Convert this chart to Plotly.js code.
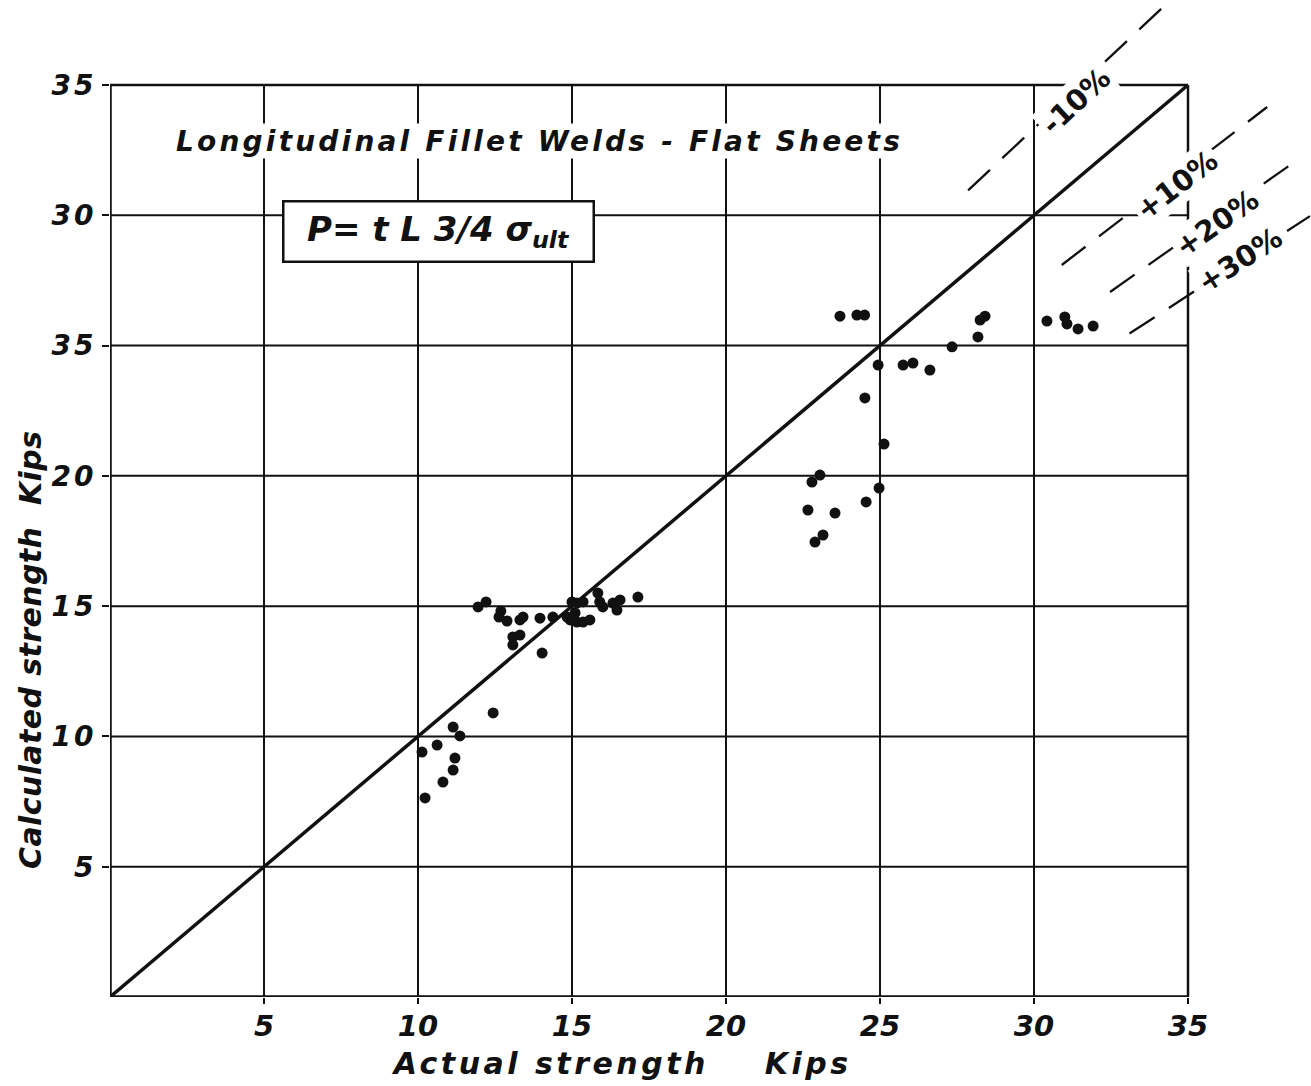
<!DOCTYPE html>
<html>
<head>
<meta charset="utf-8">
<script src="https://cdn.plot.ly/plotly-3.0.1.min.js"></script>
<style>
html,body{margin:0;padding:0;background:#fff;}
#chart{width:1311px;height:1086px;}
#chart .annotation[data-index="0"] text {letter-spacing: 3.2px;}
#chart .annotation[data-index="6"] text {letter-spacing: 3.5px;}
#chart .annotation[data-index="7"] text {letter-spacing: 0.4px;}
#chart .ytick text {letter-spacing: 3px;}
</style>
</head>
<body>
<div id="chart"></div>
<script>
// ---- data ----
const actualStrength = [
  10.23,10.13,10.62,11.14,11.36,11.20,11.14,10.81,12.44,
  11.95,12.21,12.69,12.63,12.89,13.31,13.41,13.96,14.38,13.08,13.31,13.08,14.03,
  15.00,15.16,15.36,14.94,15.16,15.36,15.58,14.84,15.10,15.84,15.90,16.00,16.33,16.56,16.46,17.14,
  22.66,23.54,22.79,23.05,22.89,23.15,24.55,24.97,25.13,24.51,24.94,25.75,26.07,26.62,27.34,28.18,28.25,28.41,
  23.70,24.25,24.50,
  30.42,31.00,31.07,31.43,31.92
];
const calculatedStrength = [
  7.64,9.40,9.67,10.36,10.02,9.17,8.71,8.25,10.90,
  14.97,15.16,14.81,14.58,14.43,14.47,14.58,14.54,14.58,13.82,13.89,13.51,13.20,
  15.16,15.12,15.16,14.47,14.39,14.39,14.47,14.58,14.74,15.50,15.16,14.97,15.12,15.24,14.85,15.35,
  18.69,18.57,19.76,20.03,17.46,17.73,19.00,19.53,21.22,22.99,24.25,24.25,24.33,24.06,24.95,25.33,25.98,26.13,
  26.13,26.17,26.17,
  25.94,26.10,25.83,25.64,25.75
];
const tickValues = [5, 10, 15, 20, 25, 30, 35];
const xTickText = ["5", "10", "15", "20", "25", "30", "35"];
const yTickText = ["5", "10", "15", "20", "35", "30", "35"];
const gridValues = [5, 10, 15, 20, 25, 30];
const axisMax = 35;
// deviation lines: calculated = actual / (1 + p)
const deviationPct = [-10, 10, 20, 30];
const deviationLabels = ["-10%", "+10%", "+20%", "+30%"];
const deviationStartX = [27.86, 30.9, 32.47, 33.1];
const deviationEndX = [34.42, 37.57, 38.6, 38.96];
const labelX = [31.36, 34.64, 35.94, 36.69];
const labelY = [34.39, 31.16, 29.70, 28.28];
const labelAngle = [-43, -37.5, -35, -33];
const chartTitle = "Longitudinal Fillet Welds - Flat Sheets";
const formulaText = "P= t L 3/4 σ<sub>ult</sub>";
const xTitle = "Actual strength&nbsp;&nbsp;&nbsp; Kips";
const yTitle = "Calculated strength&nbsp; Kips";

// ---- layout geometry ----
const W = 1311, H = 1086;
const mL = 110, mR = 0, mT = 2, mB = 89;
const pxPerX = 1078 / 35, pxPerY = 912 / 35;
const xMax = (W - mL - mR) / pxPerX;
const yMax = (H - mT - mB) / pxPerY;
const plotW = W - mL - mR, plotH = H - mT - mB;

const ink = "#111";
const titleFont = {family: "DejaVu Sans", size: 28, color: ink, weight: "bold", style: "italic"};
const formulaFont = {family: "DejaVu Sans", size: 34, color: ink, weight: "bold", style: "italic"};
const axisTitleFont = {family: "DejaVu Sans", size: 30, color: ink, weight: "bold", style: "italic"};

const traces = [];
// diagonal
traces.push({x: [0, axisMax], y: [0, axisMax], mode: "lines", line: {color: ink, width: 3.5}, hoverinfo: "skip"});
// deviation lines
deviationPct.forEach((p, i) => {
  const k = 1 / (1 + p / 100);
  traces.push({
    x: [deviationStartX[i], deviationEndX[i]],
    y: [deviationStartX[i] * k, deviationEndX[i] * k],
    mode: "lines", line: {color: ink, width: 2.3, dash: "30px,17px"}, hoverinfo: "skip"
  });
});
// data points
traces.push({x: actualStrength, y: calculatedStrength, mode: "markers",
  marker: {color: ink, size: 11, line: {width: 0}}});

const shapes = [];
gridValues.forEach(v => {
  shapes.push({type: "line", xref: "x", yref: "y", x0: v, x1: v, y0: 0, y1: axisMax, line: {color: ink, width: 2}, layer: "below"});
  shapes.push({type: "line", xref: "x", yref: "y", x0: 0, x1: axisMax, y0: v, y1: v, line: {color: ink, width: 2}, layer: "below"});
});
// frame
shapes.push({type: "line", xref: "x", yref: "y", x0: 0, x1: axisMax, y0: axisMax, y1: axisMax, line: {color: ink, width: 2.5}, layer: "below"});
shapes.push({type: "line", xref: "x", yref: "y", x0: axisMax, x1: axisMax, y0: 0, y1: axisMax, line: {color: ink, width: 2.5}, layer: "below"});
shapes.push({type: "line", xref: "x", yref: "y", x0: 0, x1: 0, y0: 0, y1: axisMax, line: {color: ink, width: 3.5}, layer: "below"});
shapes.push({type: "line", xref: "x", yref: "y", x0: 0, x1: axisMax, y0: 0, y1: 0, line: {color: ink, width: 3.5}, layer: "below"});

const annotations = [];
annotations.push({xref: "x", yref: "y", x: 13.96, y: 32.85, text: chartTitle, showarrow: false,
  xanchor: "center", yanchor: "middle", font: titleFont, bgcolor: "#fff", width: 745, height: 34, borderpad: 0});
annotations.push({xref: "x", yref: "y", x: 10.65, y: 29.36, text: formulaText, showarrow: false,
  xanchor: "center", yanchor: "middle",
  font: formulaFont, bgcolor: "#fff", bordercolor: ink, borderwidth: 2.5,
  width: 306, height: 56, borderpad: 1});
deviationLabels.forEach((t, i) => {
  annotations.push({xref: "x", yref: "y", x: labelX[i], y: labelY[i], text: t, showarrow: false,
    xanchor: "center", yanchor: "middle",
    textangle: labelAngle[i], font: {family: "DejaVu Sans", size: 29, color: ink, weight: "bold"},
    bgcolor: "#fff", borderpad: 2});
});
annotations.push({xref: "paper", yref: "paper", x: (621 - mL) / plotW, y: (997 - 1063) / plotH,
  xanchor: "center", yanchor: "middle", text: xTitle, showarrow: false, font: axisTitleFont});
annotations.push({xref: "paper", yref: "paper", x: (30 - mL) / plotW, y: (997 - 650) / plotH,
  xanchor: "center", yanchor: "middle", text: yTitle, textangle: -90, showarrow: false, font: axisTitleFont});

const layout = {
  width: W, height: H,
  margin: {l: mL, r: mR, t: mT, b: mB, pad: 0},
  paper_bgcolor: "#fff", plot_bgcolor: "#fff",
  showlegend: false,
  xaxis: {range: [0, xMax], showgrid: false, zeroline: false, showline: false,
    tickmode: "array", tickvals: tickValues, ticktext: xTickText,
    ticks: "outside", ticklen: 6, tickwidth: 2, tickcolor: ink, ticklabelstandoff: -3,
    tickfont: {family: "DejaVu Sans", size: 29, color: ink, weight: "bold", style: "italic"}},
  yaxis: {range: [0, yMax], showgrid: false, zeroline: false, showline: false,
    tickmode: "array", tickvals: tickValues, ticktext: yTickText,
    ticks: "outside", ticklen: 7, tickwidth: 2, tickcolor: ink,
    tickfont: {family: "DejaVu Sans", size: 28, color: ink, weight: "bold", style: "italic"}},
  shapes: shapes,
  annotations: annotations
};

Plotly.newPlot("chart", traces, layout, {displayModeBar: false, staticPlot: true});
</script>
</body>
</html>
